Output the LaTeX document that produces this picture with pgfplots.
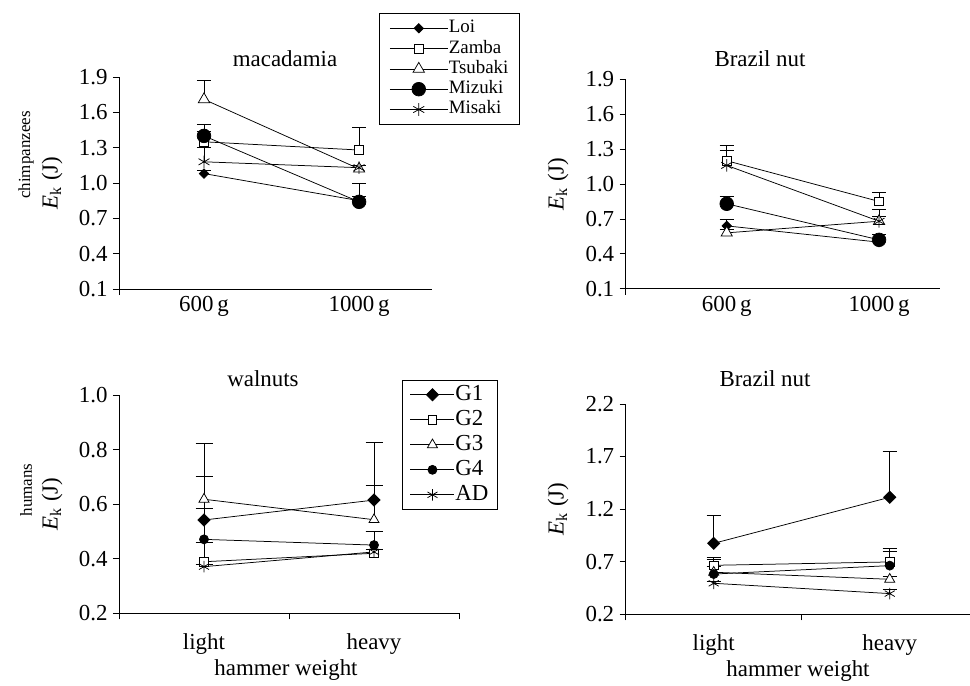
\documentclass[border=0pt]{standalone}
\usepackage{pgfplots}
\pgfplotsset{compat=1.18}
\usepackage{fontspec}
\setmainfont{Liberation Serif}
\newcommand{\fs}{\fontsize{23}{25}\selectfont}
\newcommand{\fsl}{\fontsize{17}{19}\selectfont}
\newcommand{\fsg}{\fontsize{19}{21}\selectfont}
\pgfplotsset{
  panel/.style={
    scale only axis, clip=false,
    axis lines=left, axis line style={-, line width=0.8bp},
    tick align=outside, major tick length=6bp,
    tick style={black, line width=0.8bp},
    tick label style={font=\fs},
    /pgf/number format/assume math mode=true,
    yticklabel style={xshift=-2bp, /pgf/number format/fixed, /pgf/number format/fixed zerofill, /pgf/number format/precision=1},
    ytick pos=left, xtick pos=bottom,
    error bars/y dir=plus, error bars/y explicit,
    error bars/error bar style={line width=0.75bp, black, solid},
    error bars/error mark options={rotate=90, mark size=7bp, line width=0.75bp, black},
    legend style={draw=black, line width=0.75bp, row sep=0bp},
    legend cell align=left,
  },
  base/.style={black, line width=0.75bp, mark options={solid, line width=0.75bp}},
  sA/.style={base, mark=square*, mark options={fill=black, rotate=45, mark size=3.3bp}},
  sB/.style={base, mark=square*, mark options={fill=white, mark size=4.3bp}},
  sC/.style={base, mark=triangle*, mark options={fill=white, mark size=6.5bp}},
  sD/.style={base, mark=*, mark options={fill=black, mark size=6.8bp}},
  sE/.style={base, mark=asterisk, mark options={mark size=6.3bp}},
  gA/.style={base, mark=square*, mark options={fill=black, rotate=45, mark size=4.3bp}},
  gB/.style={base, mark=square*, mark options={fill=white, mark size=4.2bp}},
  gC/.style={base, mark=triangle*, mark options={fill=white, mark size=5.8bp}},
  gD/.style={base, mark=*, mark options={fill=black, mark size=4.5bp}},
  gE/.style={base, mark=asterisk, mark options={mark size=5.8bp}},
}
\begin{document}
\begin{tikzpicture}
% ---------- top left: chimpanzees, macadamia
\begin{axis}[panel, at={(119bp,-289bp)}, anchor=south west, width=313bp, height=212bp,
  xmin=-0.548, xmax=1.47, ymin=0.1, ymax=1.9, ytick={0.1,0.4,...,1.9},
  xtick={-0.548}, xticklabels={},
  extra x ticks={0,1}, extra x tick labels={600\,g,1000\,g}, extra x tick style={major tick length=0pt, xticklabel style={yshift=-4bp}},
  legend image code/.code={\draw[mark repeat=2,mark phase=2] plot coordinates {(0bp,0bp) (29bp,0bp) (58bp,0bp)};},
  legend style={at={(0.8307,1.303)}, anchor=north west, font=\fsg, inner xsep=10bp, inner ysep=5bp,
    nodes={inner sep=0.65bp, text height=14bp, text depth=5bp}, cells={anchor=west}}]
\addplot[sA] coordinates {(0,1.08) +- (0,0.03) (1,0.85) +- (0,0.04)};
\addplot[sB] coordinates {(0,1.35) +- (0,0.09) (1,1.28) +- (0,0.19)};
\addplot[sC] coordinates {(0,1.71) +- (0,0.16) (1,1.12) +- (0,0.03)};
\addplot[sD] coordinates {(0,1.40) +- (0,0.10) (1,0.84) +- (0,0.16)};
\addplot[sE] coordinates {(0,1.18) +- (0,0.12) (1,1.13) +- (0,0.02)};
\legend{Loi,Zamba,Tsubaki,Mizuki,Misaki}
\end{axis}
% ---------- top right: chimpanzees, Brazil nut
\begin{axis}[panel, at={(625.7bp,-288.7bp)}, anchor=south west, width=314.3bp, height=209.4bp,
  xmin=-0.663, xmax=1.40, ymin=0.1, ymax=1.9, ytick={0.1,0.4,...,1.9},
  xtick={-0.663}, xticklabels={},
  extra x ticks={0,1}, extra x tick labels={600\,g,1000\,g}, extra x tick style={major tick length=0pt, xticklabel style={yshift=-4bp}}]
\addplot[sA] coordinates {(0,0.64) +- (0,0.06) (1,0.50) +- (0,0.01)};
\addplot[sB] coordinates {(0,1.20) +- (0,0.135) (1,0.85) +- (0,0.08)};
\addplot[sC] coordinates {(0,0.58) +- (0,0.03) (1,0.68) +- (0,0.04)};
\addplot[sD] coordinates {(0,0.83) +- (0,0.065) (1,0.52) +- (0,0.05)};
\addplot[sE] coordinates {(0,1.16) +- (0,0.13) (1,0.68) +- (0,0.10)};
\end{axis}
% ---------- bottom left: humans, walnuts
\begin{axis}[panel, at={(119bp,-613.3bp)}, anchor=south west, width=340bp, height=218.3bp,
  xmin=-0.5, xmax=1.5, ymin=0.2, ymax=1.0, ytick={0.2,0.4,...,1.0},
  xtick={-0.5,0.5,1.5}, xticklabels={,,},
  extra x ticks={0,1}, extra x tick labels={light,heavy}, extra x tick style={major tick length=0pt, xticklabel style={yshift=-17bp}},
  error bars/error mark options={rotate=90, mark size=8.5bp, line width=0.75bp, black},
  legend image code/.code={\draw[mark repeat=2,mark phase=2] plot coordinates {(0bp,0bp) (22bp,0bp) (44bp,0bp)};},
  legend style={at={(0.8315,1.069)}, anchor=north west, font=\fs, inner xsep=8bp, inner ysep=2bp,
    nodes={inner sep=0.5bp, text height=17.5bp, text depth=6.5bp}, cells={anchor=west}}]
\addplot[gA] coordinates {(0,0.542) +- (0,0.16) (1,0.615) +- (0,0.21)};
\addplot[gB] coordinates {(0,0.389) +- (0,0.07) (1,0.42) +- (0,0.08)};
\addplot[gC] coordinates {(0,0.618) +- (0,0.205) (1,0.543) +- (0,0.125)};
\addplot[gD] coordinates {(0,0.471) +- (0,0.115) (1,0.45) +- (0,0.05)};
\addplot[gE] coordinates {(0,0.371) +- (0,0.01) (1,0.425) +- (0,0.01)};
\legend{G1,G2,G3,G4,AD}
\end{axis}
% ---------- bottom right: humans, Brazil nut
\begin{axis}[panel, at={(625.7bp,-614.3bp)}, anchor=south west, width=344.3bp, height=210.3bp,
  xmin=-0.5, xmax=1.456, ymin=0.2, ymax=2.2, ytick={0.2,0.7,...,2.2},
  xtick={-0.5,0.5}, xticklabels={,},
  extra x ticks={0,1}, extra x tick labels={light,heavy}, extra x tick style={major tick length=0pt, xticklabel style={yshift=-17bp}}]
\addplot[gA] coordinates {(0,0.875) +- (0,0.263) (1,1.313) +- (0,0.44)};
\addplot[gB] coordinates {(0,0.666) +- (0,0.08) (1,0.698) +- (0,0.13)};
\addplot[gC] coordinates {(0,0.60) +- (0,0.12) (1,0.533) +- (0,0.03)};
\addplot[gD] coordinates {(0,0.583) +- (0,0.07) (1,0.663) +- (0,0.133)};
\addplot[gE] coordinates {(0,0.495) +- (0,0.02) (1,0.397) +- (0,0.04)};
\end{axis}
% ---------- titles and labels
\node[font=\fs] at (285bp,-59bp) {macadamia};
\node[font=\fs] at (760bp,-59bp) {Brazil nut};
\node[font=\fs] at (263bp,-379bp) {walnuts};
\node[font=\fs] at (765bp,-379bp) {Brazil nut};
\node[font=\fsl, rotate=90] at (26bp,-155bp) {chimpanzees};
\node[font=\fs, rotate=90] at (52bp,-183bp) {\textit{E}\textsubscript{k} (J)};
\node[font=\fs, rotate=90] at (558bp,-184bp) {\textit{E}\textsubscript{k} (J)};
\node[font=\fsl, rotate=90] at (26bp,-490bp) {humans};
\node[font=\fs, rotate=90] at (52bp,-504bp) {\textit{E}\textsubscript{k} (J)};
\node[font=\fs, rotate=90] at (558bp,-509bp) {\textit{E}\textsubscript{k} (J)};
\node[font=\fs] at (286bp,-670bp) {hammer weight};
\node[font=\fs] at (798bp,-671bp) {hammer weight};
\pgfresetboundingbox
\path[use as bounding box] (0,0) rectangle (970bp,-686bp);
\end{tikzpicture}
\end{document}
